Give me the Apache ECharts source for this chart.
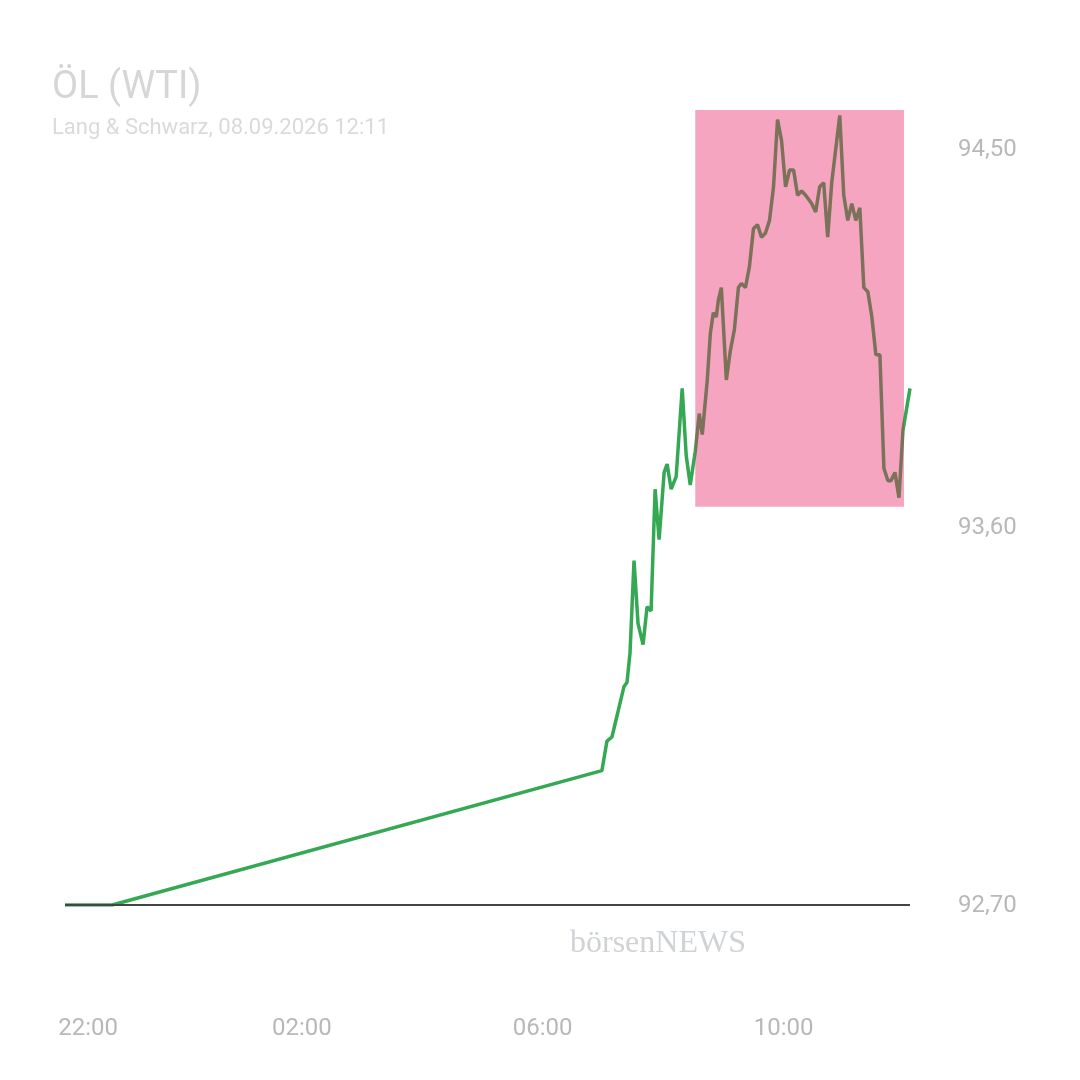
<!DOCTYPE html><html><head><meta charset="utf-8"><script src="https://cdn.jsdelivr.net/npm/echarts@6/dist/echarts.min.js"></script>
<style>html,body{margin:0;background:#fff}#c{width:1080px;height:1080px}</style></head><body><div id="c"></div><script>
// minutes since 22:00
const minutes=[4,51,539,544,549,554,558,561,564,567,571,575,580,584,588,592,596,601,604,608,613,619,623,627,632,636,639,644,647,650,653,655,658,663,667,671,675,678,682,686,690,694,698,702,706,710,714,718,722,726,730,734,738,742,748,752,756,760,764,768,772,776,780,784,788,792,796,800,804,808,812,816,820,824,827,831,835,839,846];
const prices=[92.70,92.70,93.02,93.09,93.10,93.15,93.19,93.22,93.23,93.30,93.52,93.37,93.32,93.41,93.40,93.69,93.57,93.73,93.75,93.69,93.72,93.93,93.77,93.70,93.78,93.87,93.82,93.95,94.06,94.11,94.10,94.14,94.17,93.95,94.02,94.07,94.17,94.18,94.17,94.22,94.31,94.32,94.29,94.30,94.33,94.41,94.57,94.52,94.41,94.45,94.45,94.39,94.40,94.39,94.37,94.35,94.41,94.42,94.29,94.42,94.50,94.58,94.39,94.33,94.37,94.33,94.36,94.17,94.16,94.10,94.01,94.01,93.74,93.71,93.71,93.73,93.67,93.83,93.93];
const tickLabels=['22:00','02:00','06:00','10:00'];
const tickPos=[27,240,480,720];
const baseline=92.70;
const box=[[632,93.648],[840,94.593]];
const chart=echarts.init(document.getElementById('c'));
chart.setOption({
 animation:false,
 title:{text:'ÖL (WTI)',subtext:'Lang & Schwarz, 08.09.2026 12:11',left:47,top:64,itemGap:10,
  textStyle:{color:'#d6d6d6',fontSize:38,fontWeight:'normal',fontFamily:'Roboto'},
  subtextStyle:{color:'#dadada',fontSize:22,fontFamily:'Roboto'}},
 grid:{left:61,right:170,top:65,bottom:175},
 xAxis:{type:'value',min:0,max:846,axisLine:{show:false},axisTick:{show:false},splitLine:{show:false},
  axisLabel:{customValues:tickPos,margin:112,color:'#b8b8b8',fontSize:24,fontFamily:'Roboto',
   formatter:v=>tickLabels[tickPos.indexOf(v)]||''}},
 yAxis:{type:'value',position:'right',min:92.7,max:94.7,interval:0.9,splitLine:{show:false},axisLine:{show:false},axisTick:{show:false},
  axisLabel:{showMaxLabel:false,margin:48,verticalAlign:'top',padding:[-11,0,0,0],color:'#b8b8b8',fontSize:24,fontFamily:'Roboto',formatter:v=>v.toFixed(2).replace('.',',')}},
 series:[
  {type:'line',data:minutes.map((m,i)=>[m,prices[i]]),showSymbol:false,lineStyle:{color:'#34a853',width:3.5},z:2,
   markLine:{silent:true,symbol:'none',label:{show:false},lineStyle:{color:'#444',width:2,type:'solid'},data:[[{coord:[4,baseline]},{coord:[846,baseline]}]]}}
 ]
});
const p0=chart.convertToPixel({gridIndex:0},box[0]);
const p1=chart.convertToPixel({gridIndex:0},box[1]);
chart.setOption({graphic:[
 {type:'text',left:570,top:928,z:0,style:{text:'börsenNEWS',fill:'#d0d3d6',font:'32px "Liberation Serif", serif'}},
 {type:'rect',z:100,shape:{x:p0[0],y:p1[1],width:p1[0]-p0[0],height:p0[1]-p1[1]},style:{fill:'rgba(233,30,99,0.4)'}}
]});
</script></body></html>
